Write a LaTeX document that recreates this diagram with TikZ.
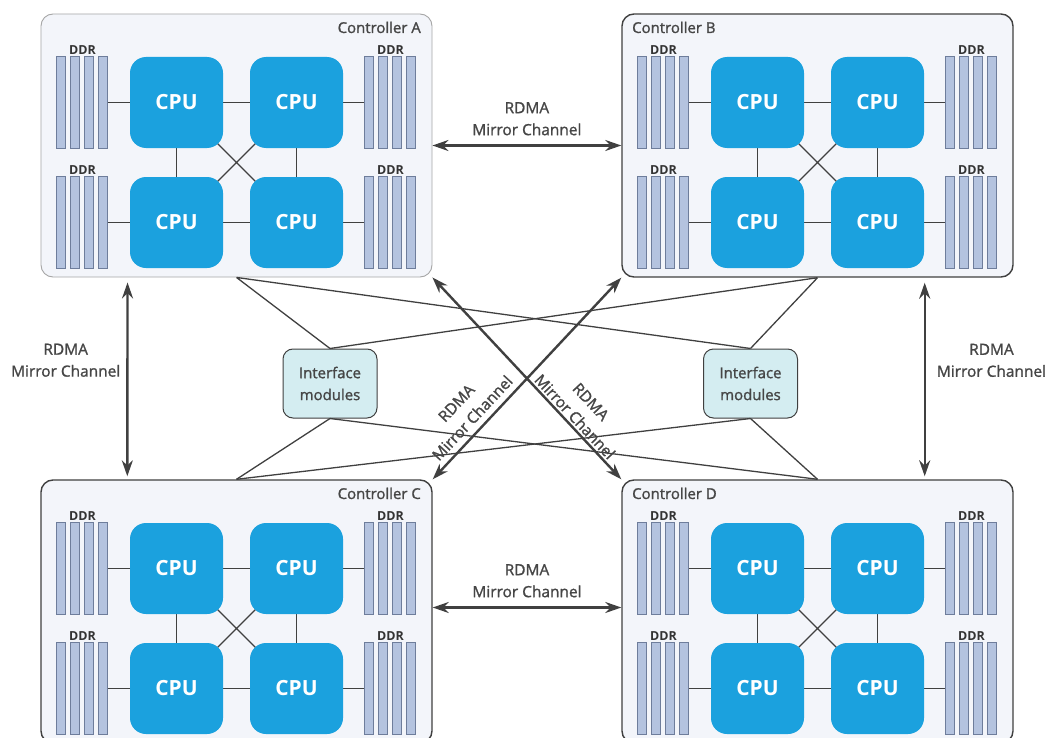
\documentclass[tikz,border=0pt]{standalone}
\usepackage{fontspec}
\setmainfont{Open Sans}
\newfontfamily\labelfont{Open Sans}[FakeBold=1.3]
\usetikzlibrary{arrows.meta, backgrounds}

\definecolor{cpublue}{RGB}{27,161,222}
\definecolor{ctrfill}{RGB}{243,245,250}
\definecolor{stickfill}{RGB}{180,195,223}
\definecolor{stickline}{RGB}{110,125,155}
\definecolor{ifcfill}{RGB}{212,237,241}
\definecolor{linegray}{RGB}{64,64,64}
\definecolor{textgray}{RGB}{70,70,70}

\tikzstyle{ctrl} = [rectangle, rounded corners=12bp, minimum width=391bp, minimum height=263bp, inner sep=0, fill=ctrfill]
\tikzstyle{darkbd} = [draw=linegray, line width=1.4bp]
\tikzstyle{lightbd} = [draw=black!35, line width=0.9bp]
\tikzstyle{cpu} = [rectangle, rounded corners=16bp, minimum width=93bp, minimum height=91bp, inner sep=0, fill=cpublue, text=white, font=\fontsize{21}{24}\selectfont\bfseries]
\tikzstyle{ddr} = [rectangle, minimum width=51bp, minimum height=92bp, inner sep=0]
\tikzstyle{stick} = [fill=stickfill, draw=stickline, line width=0.8bp]
\tikzstyle{ddrlabel} = [anchor=base, inner sep=0, text=black!80, font=\fontsize{12.5}{14}\selectfont\bfseries]
\tikzstyle{ctrlabel} = [inner sep=0, text=textgray, font=\fontsize{15}{18}\selectfont\labelfont]
\tikzstyle{ifc} = [rectangle, rounded corners=10bp, minimum width=94bp, minimum height=69bp, fill=ifcfill, draw=linegray, line width=1bp, align=center, text=textgray, font=\fontsize{15}{22}\selectfont\labelfont]
\tikzstyle{link} = [draw=linegray, line width=1.3bp]
\tikzstyle{arrow} = [linegray, line width=2.4bp, <->, >={Stealth[length=16bp,width=11bp]}]
\tikzstyle{rdma} = [inner sep=1bp, align=center, text=textgray, font=\fontsize{15.5}{22}\selectfont\labelfont]

\begin{document}
\begin{tikzpicture}[x=1bp, y=-1bp]
\useasboundingbox (0,0) rectangle (1051,738);

% four controllers
\foreach \c/\x/\y/\lx/\la/\bd in {A/41/14/380/east/lightbd, B/622/14/10/west/darkbd, C/41/480/380/east/darkbd, D/622/480/10/west/darkbd}{
\begin{scope}[shift={(\x,\y)}]
	\node (cpu\c1) [cpu] at (135.5,88.5) {CPU};
	\node (cpu\c2) [cpu] at (255.5,88.5) {CPU};
	\node (cpu\c3) [cpu] at (135.5,208.5) {CPU};
	\node (cpu\c4) [cpu] at (255.5,208.5) {CPU};
	\node (ddr\c1) [ddr] at (41.5,88.5) {};
	\node (ddr\c2) [ddr] at (349.5,88.5) {};
	\node (ddr\c3) [ddr] at (41.5,208.5) {};
	\node (ddr\c4) [ddr] at (349.5,208.5) {};
	\node (lab\c) [ctrlabel, anchor=base \la] at (\lx,19) {Controller \c};
	\foreach \j in {1,...,4}{
		\node (ddrlab\c\j) [ddrlabel] at ([yshift=1.5bp]ddr\c\j.north) {DDR};
		\foreach \k in {0,...,3}
			\draw [stick] ([xshift=\k*14bp]ddr\c\j.north west) rectangle +(9,92);
	}
	\begin{scope}[on background layer]
		\node (ctr\c) [ctrl, \bd] at (195.5,131.5) {};
		\draw [link] (cpu\c1.center) -- (cpu\c2.center) -- (cpu\c4.center) -- (cpu\c3.center) -- cycle;
		\draw [link] (cpu\c1.center) -- (cpu\c4.center) (cpu\c2.center) -- (cpu\c3.center);
		\draw [link] (ddr\c1) -- (cpu\c1.center) (ddr\c3) -- (cpu\c3.center);
		\draw [link] (ddr\c2) -- (cpu\c2.center) (ddr\c4) -- (cpu\c4.center);
	\end{scope}
\end{scope}
}

\node (ifcL) [ifc] at (330,383.5) {Interface\\modules};
\node (ifcR) [ifc] at (750.5,383.5) {Interface\\modules};

\draw [link] (ctrA.south) -- (ifcL.north) (ctrA.south) -- (ifcR.north);
\draw [link] (ctrB.south) -- (ifcL.north) (ctrB.south) -- (ifcR.north);
\draw [link] (ifcL.south) -- (ctrC.north) (ifcL.south) -- (ctrD.north);
\draw [link] (ifcR.south) -- (ctrC.north) (ifcR.south) -- (ctrD.north);

% mirror channels
\draw [arrow] (ctrA.east) -- (ctrB.west) node [rdma, midway, above=8bp] {RDMA\\Mirror Channel};
\draw [arrow] ([yshift=4bp]ctrC.east) -- ([yshift=4bp]ctrD.west) node [rdma, midway, above=8bp] {RDMA\\Mirror Channel};
\draw [arrow, shorten <=5bp, shorten >=3bp] ([xshift=87bp]ctrA.south west) -- ([xshift=87bp]ctrC.north west) node [rdma, pos=0.41, left=5bp] {RDMA\\Mirror Channel};
\draw [arrow, shorten <=5bp, shorten >=3bp] ([xshift=-89bp]ctrB.south east) -- ([xshift=-89bp]ctrD.north east) node [rdma, pos=0.41, right=10bp] {RDMA\\Mirror Channel};
\draw [arrow] (ctrC.north east) -- (ctrB.south west) node [rdma, sloped, pos=0.26, above=5bp] {RDMA\\Mirror Channel};
\draw [arrow] (ctrA.south east) -- (ctrD.north west) node [rdma, sloped, pos=0.72, above=1bp] {RDMA\\Mirror Channel};

\end{tikzpicture}
\end{document}
